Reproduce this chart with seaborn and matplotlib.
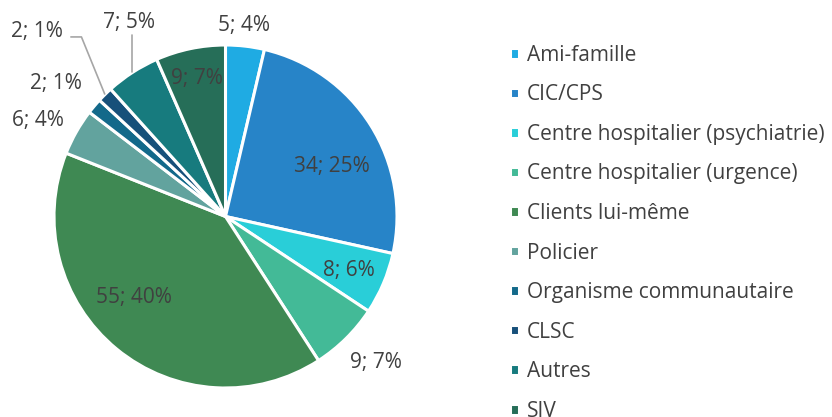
import matplotlib.pyplot as plt
import numpy as np
import seaborn as sns

# ─── Data ───────────────────────────────────────────────────────────────────
categories = [
    "Ami-famille",
    "CIC/CPS",
    "Centre hospitalier (psychiatrie)",
    "Centre hospitalier (urgence)",
    "Clients lui-même",
    "Policier",
    "Organisme communautaire",
    "CLSC",
    "Autres",
    "SIV",
]
counts = [5, 34, 8, 9, 55, 6, 2, 2, 7, 9]
pct_labels = ["4%", "25%", "6%", "7%", "40%", "4%", "1%", "1%", "5%", "7%"]

# ─── Style ──────────────────────────────────────────────────────────────────
COLORS = ["#1FABE3", "#2784C8", "#29CED8", "#43BA97", "#3F8953",
          "#62A39E", "#13698A", "#17507A", "#177B7E", "#266E58"]
# label placement: radial distance (fraction of radius) and angle shift (deg)
# None = label sits at the end of a leader line
LABEL_R = [1.12, 0.685, 0.785, 1.223, 0.71, 1.228, 1.258, None, None, 0.82]
LABEL_SHIFT = [1, -7, -0.5, 1.3, -9, 2.5, 2, 0, 0, 0]
TEXT_COLOR = "#404040"
LINE_COLOR = "#A6A6A6"
FS_LABEL = 15
FS_LEGEND = 15

sns.set_theme(style="white")
plt.rcParams["font.family"] = ["Open Sans", "DejaVu Sans"]

W, H = 832, 417
fig = plt.figure(figsize=(W / 100, H / 100), dpi=100)
cx, cy, r = 225.5, 216.5, 171.5
ax = fig.add_axes([(cx - r) / W, (H - cy - r) / H, 2 * r / W, 2 * r / H])

palette = sns.color_palette(COLORS)
wedges, _ = ax.pie(
    counts, colors=palette, startangle=90, counterclock=False, radius=1,
    wedgeprops=dict(edgecolor="white", linewidth=2.2),
)
ax.set_xlim(-1, 1)
ax.set_ylim(-1, 1)
ax.axis("off")


def mid_point(w, shift=0.0):
    a = np.deg2rad((w.theta1 + w.theta2) / 2 + shift)
    return np.cos(a), np.sin(a)


for i, (w, n, p) in enumerate(zip(wedges, counts, pct_labels)):
    if LABEL_R[i] is None:
        continue
    mx, my = mid_point(w, LABEL_SHIFT[i])
    d = LABEL_R[i]
    ax.text(d * mx, d * my, f"{n}; {p}", ha="center", va="center",
            fontsize=FS_LABEL, color=TEXT_COLOR, clip_on=False)

# leader-line labels (CLSC and Autres)
ex, ey = mid_point(wedges[7])
ax.plot([ex, -0.84, -0.905], [ey, 1.047, 1.047],
        color=LINE_COLOR, lw=1.2, solid_capstyle="butt", clip_on=False)
ax.text(-1.10, 1.08, f"{counts[7]}; {pct_labels[7]}", ha="center", va="center",
        fontsize=FS_LABEL, color=TEXT_COLOR, clip_on=False)

ex2, ey2 = mid_point(wedges[8])
ax.plot([ex2, ex2], [ey2, 1.06], color=LINE_COLOR, lw=1.2, clip_on=False)
ax.text(-0.565, 1.13, f"{counts[8]}; {pct_labels[8]}", ha="center", va="center",
        fontsize=FS_LABEL, color=TEXT_COLOR, clip_on=False)

leg = fig.legend(
    wedges, categories, loc="upper left",
    bbox_to_anchor=(502 / W, 1 - 36.5 / H), frameon=False,
    fontsize=FS_LEGEND, handlelength=0.4, handleheight=0.4, handletextpad=0.4,
    labelspacing=0.89, borderaxespad=0,
)
for t in leg.get_texts():
    t.set_color(TEXT_COLOR)

fig.savefig("out.png", dpi=100)
